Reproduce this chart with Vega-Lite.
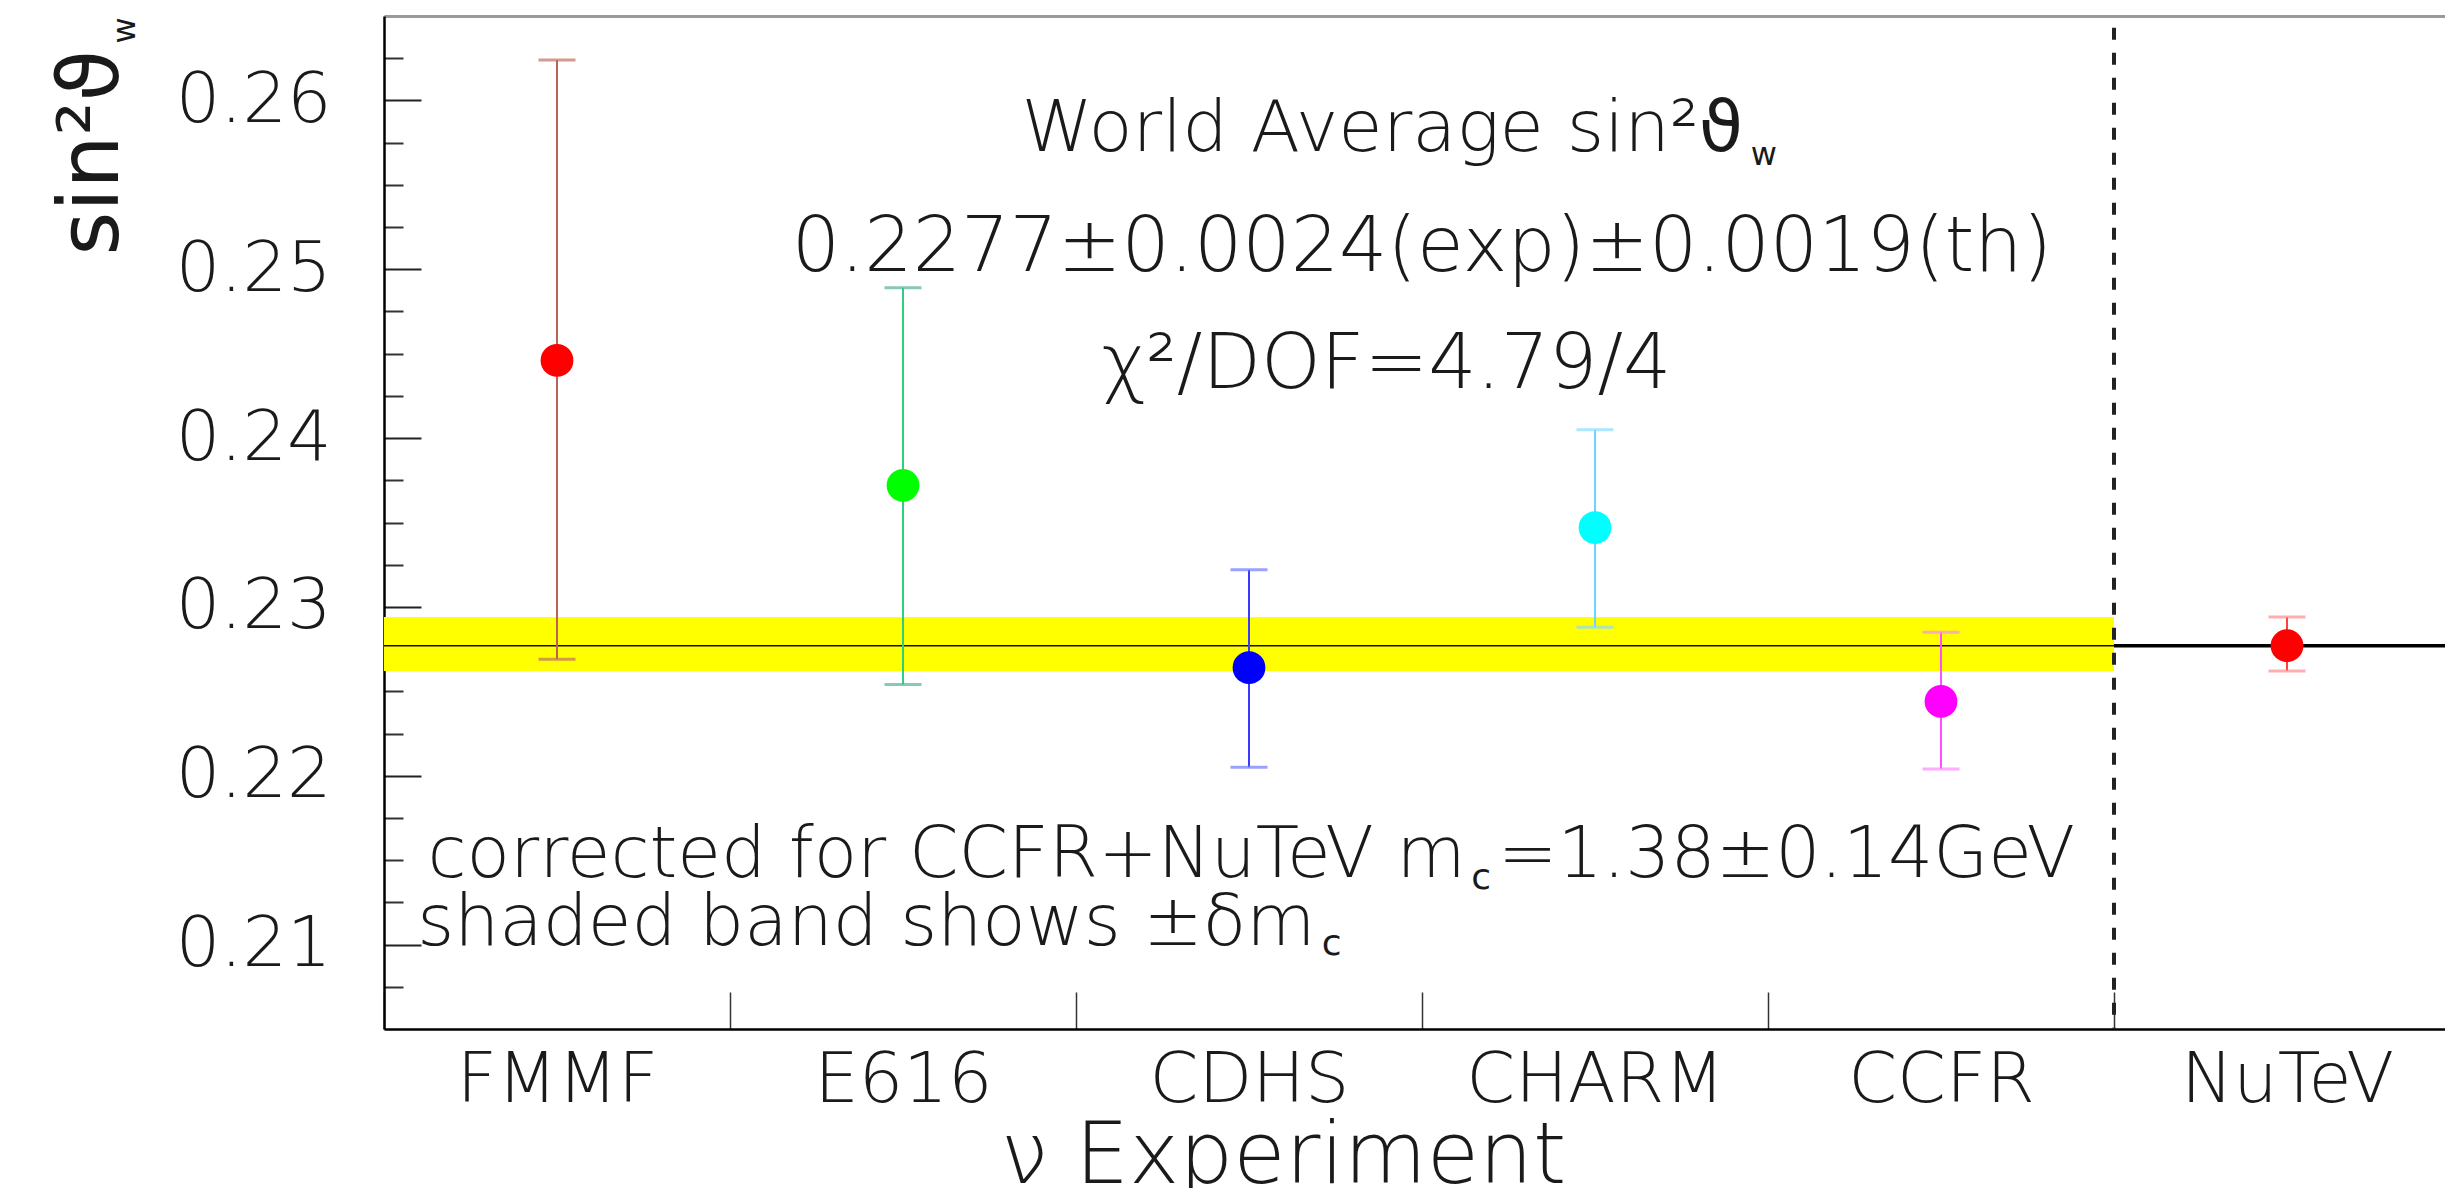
{
  "$schema": "https://vega.github.io/schema/vega-lite/v6.json",
  "autosize": {"type": "none"},
  "width": 2061,
  "height": 1013,
  "padding": {"left": 384, "top": 16, "right": 0, "bottom": 159},
  "background": "white",
  "config": {
    "view": {"stroke": null},
    "font": "DejaVu Sans",
    "axis": {"grid": false, "labelFont": "DejaVu Sans", "titleFont": "DejaVu Sans", "titleFontWeight": 300, "labelFontWeight": 300, "labelColor": "#1a1a1a", "titleColor": "#1a1a1a", "labelLimit": 0},
    "text": {"font": "DejaVu Sans", "fontWeight": 300, "color": "#1a1a1a", "baseline": "alphabetic"}
  },
  "datasets": {
    "experiments": [
      {"experiment": "FMMF", "value": 0.2446, "lo": 0.2269, "hi": 0.2624},
      {"experiment": "E616", "value": 0.2372, "lo": 0.2254, "hi": 0.2489},
      {"experiment": "CDHS", "value": 0.2264, "lo": 0.2205, "hi": 0.2322},
      {"experiment": "CHARM", "value": 0.2347, "lo": 0.2288, "hi": 0.2405},
      {"experiment": "CCFR", "value": 0.2244, "lo": 0.2204, "hi": 0.2285},
      {"experiment": "NuTeV", "value": 0.2277, "lo": 0.2262, "hi": 0.2294}
    ],
    "average": [{"avg": 0.2277, "lo": 0.2262, "hi": 0.2294}]
  },
  "layer": [
    {
      "data": {"name": "average"},
      "mark": {"type": "rect", "color": "#ffff00"},
      "encoding": {
        "x": {"datum": "FMMF", "bandPosition": 0, "type": "nominal", "axis": null,
              "scale": {"type": "band", "domain": ["FMMF", "E616", "CDHS", "CHARM", "CCFR", "NuTeV"], "range": [0, 2076], "paddingInner": 0, "paddingOuter": 0}},
        "x2": {"datum": "CCFR", "bandPosition": 1},
        "y": {"field": "lo", "type": "quantitative", "axis": null,
              "scale": {"domain": [0.205, 0.265], "nice": false, "zero": false}},
        "y2": {"field": "hi"}
      }
    },
    {
      "data": {"name": "average"},
      "mark": {"type": "rule", "color": "#111111", "strokeWidth": 1.5},
      "encoding": {
        "y": {"field": "avg", "type": "quantitative", "axis": null}
      }
    },
    {
      "data": {"name": "average"},
      "mark": {"type": "rule", "color": "#000000", "strokeWidth": 3.5},
      "encoding": {
        "x": {"datum": "NuTeV", "bandPosition": 0, "type": "nominal", "axis": null},
        "x2": {"datum": "NuTeV", "bandPosition": 1},
        "y": {"field": "avg", "type": "quantitative", "axis": null}
      }
    },
    {
      "data": {"values": [{"boundary": "CCFR | NuTeV"}]},
      "mark": {"type": "rule", "color": "#222222", "strokeWidth": 4, "strokeDash": [12, 13]},
      "encoding": {
        "x": {"datum": "NuTeV", "bandPosition": 0, "type": "nominal", "axis": null},
        "y": {"datum": 0.2643, "type": "quantitative", "axis": null},
        "y2": {"datum": 0.205}
      }
    },
    {
      "data": {"name": "experiments"},
      "mark": {"type": "rule", "strokeWidth": 2},
      "encoding": {
        "x": {"field": "experiment", "type": "nominal",
              "axis": {"orient": "top", "domainColor": "#9a9a9a", "domainWidth": 3, "ticks": false, "labels": false, "title": null}},
        "y": {"field": "lo", "type": "quantitative",
              "axis": {"orient": "left", "values": [0.2075, 0.2125, 0.215, 0.2175, 0.2225, 0.225, 0.2275, 0.2325, 0.235, 0.2375, 0.2425, 0.245, 0.2475, 0.2525, 0.255, 0.2575, 0.2625],
                       "tickSize": -19, "tickWidth": 2, "tickColor": "#333333", "labels": false, "domain": false,
                       "title": "w", "titleFontSize": 32, "titleFontWeight": "normal", "titleAngle": -90, "titleAlign": "left", "titleBaseline": "alphabetic", "titleX": -250, "titleY": 27}},
        "y2": {"field": "hi"},
        "color": {"field": "experiment", "type": "nominal", "legend": null,
                  "scale": {"domain": ["FMMF", "E616", "CDHS", "CHARM", "CCFR", "NuTeV"], "range": ["#b8624f", "#2ecf7a", "#3a3aff", "#6cd3ff", "#ff4dff", "#ff4040"]}}
      }
    },
    {
      "data": {"name": "experiments"},
      "mark": {"type": "tick", "orient": "horizontal", "size": 37, "thickness": 3},
      "encoding": {
        "x": {"field": "experiment", "type": "nominal", "axis": null},
        "y": {"field": "hi", "type": "quantitative", "axis": null},
        "color": {"field": "experiment", "type": "nominal", "legend": null,
                  "scale": {"domain": ["FMMF", "E616", "CDHS", "CHARM", "CCFR", "NuTeV"], "range": ["#c0705e", "#55b09a", "#6f7bff", "#8adcff", "#ff88ff", "#ff8a8a"]}}
      }
    },
    {
      "data": {"name": "experiments"},
      "mark": {"type": "tick", "orient": "horizontal", "size": 37, "thickness": 3},
      "encoding": {
        "x": {"field": "experiment", "type": "nominal", "axis": null},
        "y": {"field": "lo", "type": "quantitative", "axis": null},
        "color": {"field": "experiment", "type": "nominal", "legend": null,
                  "scale": {"domain": ["FMMF", "E616", "CDHS", "CHARM", "CCFR", "NuTeV"], "range": ["#c0705e", "#55b09a", "#6f7bff", "#8adcff", "#ff88ff", "#ff8a8a"]}}
      }
    },
    {
      "data": {"name": "experiments"},
      "mark": {"type": "circle", "size": 1075, "opacity": 1},
      "encoding": {
        "x": {"field": "experiment", "type": "nominal",
              "axis": {"orient": "bottom", "tickBand": "extent", "tickSize": -37, "tickWidth": 1.5, "tickColor": "#333333",
                       "domainColor": "#000000", "domainWidth": 2.5, "labelFontSize": 70, "labelPadding": 54, "labelAngle": 0,
                       "labelBaseline": "top", "labelLimit": 0,
                       "title": "ν Experiment", "titleFontSize": 85, "titleX": 899, "titleY": 153, "titleAlign": "center", "titleBaseline": "alphabetic"}},
        "y": {"field": "value", "type": "quantitative",
              "axis": {"orient": "left", "values": [0.21, 0.22, 0.23, 0.24, 0.25, 0.26], "format": ".2f",
                       "tickSize": -37, "tickWidth": 2, "tickColor": "#222222", "domainColor": "#000000", "domainWidth": 2.5,
                       "labelFontSize": 70, "labelPadding": 90, "labelBaseline": "middle",
                       "title": "sin²ϑ", "titleFontSize": 84, "titleFontWeight": "normal", "titleAngle": -90, "titleAlign": "left", "titleBaseline": "alphabetic", "titleX": -267, "titleY": 239}},
        "color": {"field": "experiment", "type": "nominal", "legend": null,
                  "scale": {"domain": ["FMMF", "E616", "CDHS", "CHARM", "CCFR", "NuTeV"], "range": ["#ff0000", "#00ff00", "#0000ff", "#00ffff", "#ff00ff", "#ff0000"]}}
      }
    },
    {
      "data": {"values": [{"label": "World Average sin²"}]},
      "mark": {"type": "text", "fontSize": 72, "align": "right"},
      "encoding": {
        "x": {"datum": "CHARM", "bandPosition": 0.80, "type": "nominal", "axis": null},
        "y": {"datum": 0.257, "type": "quantitative", "axis": null},
        "text": {"field": "label"}
      }
    },
    {
      "data": {"values": [{"label": "ϑ"}]},
      "mark": {"type": "text", "fontSize": 72, "align": "left", "fontWeight": "normal"},
      "encoding": {
        "x": {"datum": "CHARM", "bandPosition": 0.80, "type": "nominal", "axis": null},
        "y": {"datum": 0.257, "type": "quantitative", "axis": null},
        "text": {"field": "label"}
      }
    },
    {
      "data": {"values": [{"label": "w"}]},
      "mark": {"type": "text", "fontSize": 32, "align": "left", "fontWeight": "normal"},
      "encoding": {
        "x": {"datum": "CHARM", "bandPosition": 0.95, "type": "nominal", "axis": null},
        "y": {"datum": 0.25617, "type": "quantitative", "axis": null},
        "text": {"field": "label"}
      }
    },
    {
      "data": {"values": [{"label": "0.2277±0.0024(exp)±0.0019(th)"}]},
      "mark": {"type": "text", "fontSize": 76, "align": "center"},
      "encoding": {
        "x": {"datum": "CHARM", "bandPosition": 0.0, "type": "nominal", "axis": null},
        "y": {"datum": 0.24991, "type": "quantitative", "axis": null},
        "text": {"field": "label"}
      }
    },
    {
      "data": {"values": [{"label": "χ²/DOF=4.79/4"}]},
      "mark": {"type": "text", "fontSize": 76, "align": "center"},
      "encoding": {
        "x": {"datum": "CDHS", "bandPosition": 0.897, "type": "nominal", "axis": null},
        "y": {"datum": 0.24296, "type": "quantitative", "axis": null},
        "text": {"field": "label"}
      }
    },
    {
      "data": {"values": [{"label": "corrected for CCFR+NuTeV m"}]},
      "mark": {"type": "text", "fontSize": 71, "align": "right"},
      "encoding": {
        "x": {"datum": "CHARM", "bandPosition": 0.126, "type": "nominal", "axis": null},
        "y": {"datum": 0.21398, "type": "quantitative", "axis": null},
        "text": {"field": "label"}
      }
    },
    {
      "data": {"values": [{"label": "c"}]},
      "mark": {"type": "text", "fontSize": 36, "align": "left", "fontWeight": "normal"},
      "encoding": {
        "x": {"datum": "CHARM", "bandPosition": 0.142, "type": "nominal", "axis": null},
        "y": {"datum": 0.2133, "type": "quantitative", "axis": null},
        "text": {"field": "label"}
      }
    },
    {
      "data": {"values": [{"label": "=1.38±0.14GeV"}]},
      "mark": {"type": "text", "fontSize": 71, "align": "left"},
      "encoding": {
        "x": {"datum": "CHARM", "bandPosition": 0.22, "type": "nominal", "axis": null},
        "y": {"datum": 0.21398, "type": "quantitative", "axis": null},
        "text": {"field": "label"}
      }
    },
    {
      "data": {"values": [{"label": "shaded band shows ±δm"}]},
      "mark": {"type": "text", "fontSize": 71, "align": "right"},
      "encoding": {
        "x": {"datum": "CDHS", "bandPosition": 0.692, "type": "nominal", "axis": null},
        "y": {"datum": 0.21, "type": "quantitative", "axis": null},
        "text": {"field": "label"}
      }
    },
    {
      "data": {"values": [{"label": "c"}]},
      "mark": {"type": "text", "fontSize": 36, "align": "left", "fontWeight": "normal"},
      "encoding": {
        "x": {"datum": "CDHS", "bandPosition": 0.71, "type": "nominal", "axis": null},
        "y": {"datum": 0.20939, "type": "quantitative", "axis": null},
        "text": {"field": "label"}
      }
    }
  ],
  "resolve": {"axis": {"x": "independent", "y": "independent"}, "scale": {"color": "independent"}}
}
